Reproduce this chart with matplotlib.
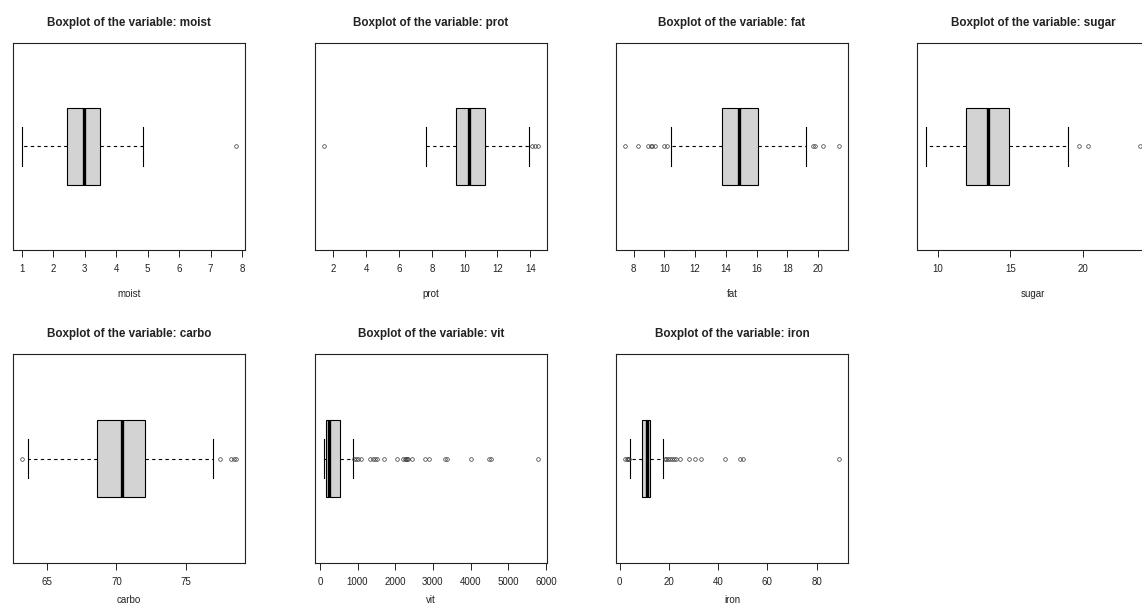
import matplotlib
matplotlib.use("Agg")
import matplotlib.pyplot as plt

plt.rcParams['font.family'] = ['Liberation Sans', 'DejaVu Sans']

# boxplot statistics
variables = ["moist", "prot", "fat", "sugar", "carbo", "vit", "iron"]
whislo = [1.0, 7.65, 10.42, 9.14, 63.66, 100, 4.35]
q1 = [2.43, 9.47, 13.72, 11.93, 68.62, 165, 9.1]
med = [2.98, 10.25, 14.85, 13.49, 70.4, 255, 11.1]
q3 = [3.49, 11.27, 16.07, 14.94, 72.02, 540, 12.5]
whishi = [4.84, 13.9, 19.25, 19.0, 76.9, 870, 17.6]
fliers = [
    [7.82],
    [1.4, 14.1, 14.3, 14.5],
    [7.4, 8.3, 8.9, 9.1, 9.2, 9.35, 10.0, 10.15, 19.65, 19.8, 20.35, 21.4],
    [19.77, 20.35, 24.0],
    [63.2, 77.4, 78.2, 78.4, 78.6],
    [920, 960, 1010, 1080, 1330, 1400, 1470, 1520, 1700, 2050, 2200, 2250,
     2280, 2300, 2350, 2450, 2800, 2900, 3330, 3380, 4000, 4500, 4550, 5800],
    [2.0, 2.8, 3.3, 3.7, 18.3, 19.0, 19.5, 20.5, 21.2, 22.0, 23.0, 24.5,
     28.0, 30.5, 33.0, 43.0, 49.0, 50.3, 89.3],
]
ticks = [
    [1, 2, 3, 4, 5, 6, 7, 8],
    [2, 4, 6, 8, 10, 12, 14],
    [8, 10, 12, 14, 16, 18, 20],
    [10, 15, 20],
    [65, 70, 75],
    [0, 1000, 2000, 3000, 4000, 5000, 6000],
    [0, 20, 40, 60, 80],
]

W, H = 1142, 606
fig = plt.figure(figsize=(W / 100, H / 100), dpi=100)

# panel positions in pixels (left, top, bottom)
lefts = [13, 315, 616, 917]
rows = [(43, 250), (354, 563)]
pw = 232

for i, name in enumerate(variables):
    r, c = divmod(i, 4)
    top, bot = rows[r]
    ax = fig.add_axes([lefts[c] / W, 1 - bot / H, pw / W, (bot - top) / H])

    stats = [dict(med=med[i], q1=q1[i], q3=q3[i], whislo=whislo[i],
                  whishi=whishi[i], fliers=fliers[i])]
    ax.bxp(stats, positions=[1], widths=0.4, orientation='horizontal',
           patch_artist=True, showfliers=True,
           boxprops=dict(facecolor='#D3D3D3', edgecolor='black', linewidth=0.8),
           medianprops=dict(color='black', linewidth=2.4, solid_capstyle='butt'),
           whiskerprops=dict(color='black', linewidth=0.8, linestyle=(0, (3, 3))),
           capprops=dict(color='black', linewidth=0.8),
           flierprops=dict(marker='o', markersize=2.6, markerfacecolor='none',
                           markeredgecolor='#333333', markeredgewidth=0.5))

    allv = [whislo[i], whishi[i]] + fliers[i]
    lo, hi = min(allv), max(allv)
    pad = 0.04 * (hi - lo)
    ax.set_xlim(lo - pad, hi + pad)
    ax.set_ylim(0.46, 1.54)

    ax.set_xticks(ticks[i])
    ax.set_xticklabels([str(t) for t in ticks[i]])
    ax.set_yticks([])
    ax.tick_params(axis='x', direction='out', length=5, width=0.7, pad=5,
                   labelsize=7, colors='#222222')
    for s in ax.spines.values():
        s.set_linewidth(0.8)
        s.set_color('#222222')

    ax.set_title("Boxplot of the variable: " + name, fontsize=8.4,
                 fontweight='bold', pad=12, color='#222222')
    ax.set_xlabel(name, fontsize=7, labelpad=11 if r == 0 else 6,
                  color='#222222')

fig.savefig("out.png", dpi=100)
